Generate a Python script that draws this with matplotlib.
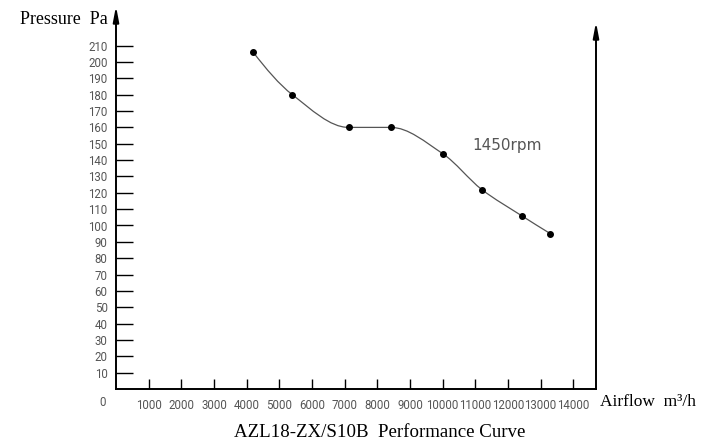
import numpy as np
import matplotlib
matplotlib.use("Agg")
import matplotlib.pyplot as plt
from matplotlib.path import Path
from matplotlib.patches import PathPatch

# ---- data ----
airflow = [4200, 5400, 7120, 8420, 10000, 11200, 12420, 13300]
pressure = [206, 180, 160, 160, 144, 122, 106, 95]
y_ticks = [10, 20, 30, 40, 50, 60, 70, 80, 90, 100, 110, 120, 130, 140, 150,
           160, 170, 180, 190, 200, 210]
x_ticks = [1000, 2000, 3000, 4000, 5000, 6000, 7000, 8000, 9000, 10000,
           11000, 12000, 13000, 14000]
speed_label = "1450rpm"
y_title = "Pressure  Pa"
x_title = "Airflow  m\u00b3/h"
caption = "AZL18-ZX/S10B  Performance Curve"

W, H = 715, 444
fig = plt.figure(figsize=(W / 100, H / 100), dpi=100)
px_per_1000 = 32.66
px_per_unit = 1.635
ax_left, ax_bottom_px, ax_right, ax_top_px = 116, 389, 596, 6
ax = fig.add_axes([ax_left / W, (H - ax_bottom_px) / H,
                   (ax_right - ax_left) / W, (ax_bottom_px - ax_top_px) / H])
xmax = (ax_right - ax_left) / px_per_1000 * 1000
ymax = (ax_bottom_px - ax_top_px) / px_per_unit
ax.set_xlim(0, xmax)
ax.set_ylim(0, ymax)
for s in ["top", "right", "left"]:
    ax.spines[s].set_visible(False)
ax.spines["bottom"].set_linewidth(1.4)

tickfont = dict(family=["Roboto", "DejaVu Sans"], fontsize=8.3, color="#555555")
ax.set_yticks(y_ticks)
ax.set_yticklabels([str(v) for v in y_ticks], **tickfont)
ax.set_xticks(x_ticks)
ax.set_xticklabels([str(v) for v in x_ticks], **tickfont)
ax.tick_params(axis="y", direction="in", length=12.2, width=1.0, pad=6)
ax.tick_params(axis="x", direction="in", length=7.2, width=1.0, pad=7)

# axis arrows
arrow = dict(arrowstyle="-|>,head_length=0.9,head_width=0.17",
             color="black", lw=1.4, shrinkA=0, shrinkB=0)
ax.annotate("", xy=(0, ymax), xytext=(0, 0), arrowprops=arrow,
            annotation_clip=False)
ax.annotate("", xy=(xmax, (ax_bottom_px - 22) / px_per_unit), xytext=(xmax, 0),
            arrowprops=arrow, annotation_clip=False)

# smooth monotone (PCHIP) curve through the points, drawn as Bezier segments
x = np.array(airflow, float)
y = np.array(pressure, float)
h = np.diff(x)
d = np.diff(y) / h
m = np.zeros_like(x)
for i in range(1, len(x) - 1):
    if d[i - 1] * d[i] <= 0:
        m[i] = 0.0
    else:
        w1 = 2 * h[i] + h[i - 1]
        w2 = h[i] + 2 * h[i - 1]
        m[i] = (w1 + w2) / (w1 / d[i - 1] + w2 / d[i])
m[0] = ((2 * h[0] + h[1]) * d[0] - h[0] * d[1]) / (h[0] + h[1])
if np.sign(m[0]) != np.sign(d[0]):
    m[0] = 0.0
m[-1] = ((2 * h[-1] + h[-2]) * d[-1] - h[-1] * d[-2]) / (h[-1] + h[-2])
if np.sign(m[-1]) != np.sign(d[-1]):
    m[-1] = 0.0
verts = [(x[0], y[0])]
codes = [Path.MOVETO]
for i in range(len(x) - 1):
    verts += [(x[i] + h[i] / 3, y[i] + m[i] * h[i] / 3),
              (x[i + 1] - h[i] / 3, y[i + 1] - m[i + 1] * h[i] / 3),
              (x[i + 1], y[i + 1])]
    codes += [Path.CURVE4] * 3
ax.add_patch(PathPatch(Path(verts, codes), fill=False, edgecolor="#555555", lw=0.9))
ax.plot(airflow, pressure, "o", color="black", markersize=4)

ax.text(10900, 149, speed_label, fontsize=11, color="#555555",
        family="DejaVu Sans", va="center", ha="left")

fig.text(103 / W, 1 - 402 / H, "0", **tickfont, ha="center", va="center")
fig.text(108 / W, 1 - 20 / H, y_title, family="Liberation Serif", fontsize=12.9,
         ha="right", va="center")
fig.text(600 / W, 1 - 402 / H, x_title, family="Liberation Serif", fontsize=12.5,
         ha="left", va="center")
fig.text(380 / W, 1 - 432 / H, caption, family="Liberation Serif", fontsize=13.6,
         ha="center", va="center")

fig.savefig("out.png", dpi=100)
